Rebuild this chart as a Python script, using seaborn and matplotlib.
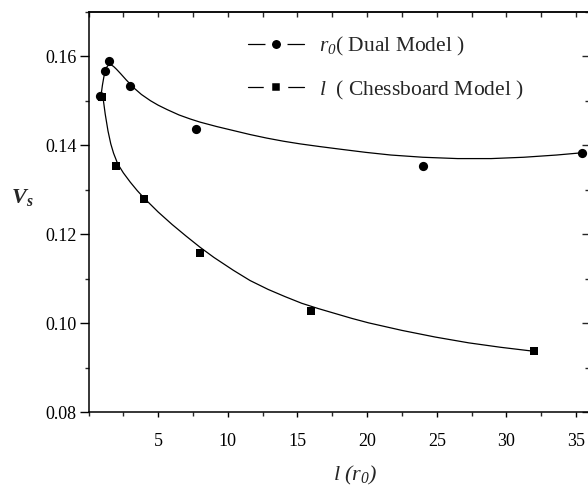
import pandas as pd
import matplotlib.pyplot as plt
import seaborn as sns
from matplotlib.lines import Line2D
from matplotlib.ticker import MultipleLocator

# measured points
dual_x = [0.8, 1.15, 1.46, 2.97, 7.73, 24.0, 35.4]
dual_y = [0.1510, 0.1566, 0.1589, 0.1533, 0.1437, 0.1354, 0.1382]
chess_x = [1, 2, 4, 8, 16, 32]
chess_y = [0.1509, 0.1354, 0.1280, 0.1158, 0.1027, 0.0938]

# fitted curves
dual_fit_x = [0.9, 1.0, 1.1, 1.2, 1.3, 1.4, 1.5, 1.65, 1.8, 2.0, 2.3, 2.7,
              3.25, 3.8, 4.45, 5.0, 5.65, 6.5, 7.3, 8.0, 9.2, 10.4, 11.6,
              12.8, 14.0, 15.2, 16.6, 18.1, 19.9, 21.7, 24.0, 26.5, 28.9,
              31.25, 33.6, 35.4]
dual_fit_y = [0.1512, 0.1535, 0.1553, 0.1566, 0.1575, 0.1579, 0.1581, 0.1580,
              0.1577, 0.1571, 0.1561, 0.1547, 0.1529, 0.1514, 0.1500, 0.1490,
              0.1480, 0.1468, 0.1459, 0.1452, 0.1442, 0.1433, 0.1424, 0.1416,
              0.1409, 0.1403, 0.1397, 0.1391, 0.1384, 0.1378, 0.1373, 0.1370,
              0.1370, 0.1373, 0.1378, 0.1383]
chess_fit_x = [1.05, 1.2, 1.4, 1.6, 1.8, 2.1, 2.5, 3.0, 3.5, 4.0, 5.0, 6.0,
               7.0, 8.0, 9.0, 10.4, 11.6, 12.9, 14.1, 15.3, 16.5, 17.7, 18.9,
               20.1, 22.5, 24.9, 27.3, 29.6, 32.0]
chess_fit_y = [0.1505, 0.1470, 0.1432, 0.1403, 0.1382, 0.1358, 0.1338, 0.1317,
               0.1298, 0.1281, 0.1250, 0.1222, 0.1196, 0.1171, 0.1148, 0.1119,
               0.1096, 0.1076, 0.1060, 0.1045, 0.1033, 0.1022, 0.1011, 0.1001,
               0.0984, 0.0969, 0.0956, 0.0946, 0.0937]

labels = [r"$r_0$( Dual Model )", r"$l$  ( Chessboard Model )"]

sns.set_style("ticks")
plt.rcParams["font.family"] = ["Liberation Serif", "DejaVu Serif"]
plt.rcParams["mathtext.fontset"] = "custom"
plt.rcParams["mathtext.rm"] = "Liberation Serif:italic"
plt.rcParams["mathtext.it"] = "Liberation Serif:italic"
plt.rcParams["mathtext.bf"] = "Liberation Serif:bold:italic"

fig = plt.figure(figsize=(5.88, 4.87), dpi=100)
ax = fig.add_axes([88.5 / 588, 1 - 412.3 / 487, 501.5 / 588, 400.6 / 487])

dual_fit = pd.DataFrame({"x": dual_fit_x, "y": dual_fit_y})
chess_fit = pd.DataFrame({"x": chess_fit_x, "y": chess_fit_y})
sns.lineplot(data=dual_fit, x="x", y="y", color="black", lw=0.9,
             estimator=None, sort=False, ax=ax)
sns.lineplot(data=chess_fit, x="x", y="y", color="black", lw=0.9,
             estimator=None, sort=False, ax=ax)

dual = pd.DataFrame({"x": dual_x, "y": dual_y})
chess = pd.DataFrame({"x": chess_x, "y": chess_y})
sns.scatterplot(data=dual, x="x", y="y", marker="o", s=44, color="black",
                edgecolor="black", linewidth=0, ax=ax, zorder=3)
sns.scatterplot(data=chess, x="x", y="y", marker="s", s=30, color="black",
                edgecolor="black", linewidth=0, ax=ax, zorder=3)

ax.set_xlim(0, 36)
ax.set_ylim(0.08, 0.17)
ax.set_xticks([5, 10, 15, 20, 25, 30, 35])
ax.xaxis.set_minor_locator(MultipleLocator(2.5))
ax.set_yticks([0.08, 0.10, 0.12, 0.14, 0.16])
ax.set_yticklabels(["0.08", "0.10", "0.12", "0.14", "0.16"])
ax.yaxis.set_minor_locator(MultipleLocator(0.01))

for s in ax.spines.values():
    s.set_linewidth(1.1)
    s.set_color("black")

ax.tick_params(axis="y", which="major", direction="out", length=6.5, width=1.0,
               labelsize=13, colors="black", pad=2)
ax.tick_params(axis="y", which="minor", direction="out", length=3, width=1.0)
ax.tick_params(axis="x", which="major", direction="out", length=3.6, width=1.0,
               labelsize=13, colors="black", pad=11)
ax.tick_params(axis="x", which="minor", direction="out", length=3, width=1.0)

top = ax.secondary_xaxis("top")
top.set_xticks([5, 10, 15, 20, 25, 30, 35])
top.xaxis.set_minor_locator(MultipleLocator(2.5))
top.tick_params(which="both", direction="in", length=3.6, width=1.0, labeltop=False)
top.spines["top"].set_linewidth(1.1)

right = ax.secondary_yaxis("right")
right.set_yticks([0.08, 0.10, 0.12, 0.14, 0.16])
right.yaxis.set_minor_locator(MultipleLocator(0.01))
right.tick_params(which="major", direction="in", length=5.8, width=1.0, labelright=False)
right.tick_params(which="minor", direction="in", length=3.6, width=1.0)

ax.set_xlabel(r"$l\ (r_0)$", fontsize=16, va="center")
ax.xaxis.set_label_coords((355 - 88.5) / 501.5, (412.3 - 475) / 400.6)
ax.set_ylabel(r"$\mathbf{V_s}$", fontsize=16, rotation=0, ha="center", va="center")
ax.yaxis.set_label_coords((22 - 88.5) / 501.5, (412.3 - 198) / 400.6)

handles = [
    Line2D([], [], color="black", lw=0.9, marker="o", markersize=11.2,
           markerfacecolor="black", markeredgecolor="white", markeredgewidth=4.7),
    Line2D([], [], color="black", lw=0.9, marker="s", markersize=11.2,
           markerfacecolor="black", markeredgecolor="white", markeredgewidth=6.1),
]
fig.legend(handles, labels, loc="upper left", bbox_to_anchor=(248 / 588, 1 - 35 / 487),
           frameon=False, fontsize=15.5, handlelength=2.6, handletextpad=0.7,
           labelspacing=0.95, borderpad=0, borderaxespad=0)

fig.savefig("out.png", dpi=100)
